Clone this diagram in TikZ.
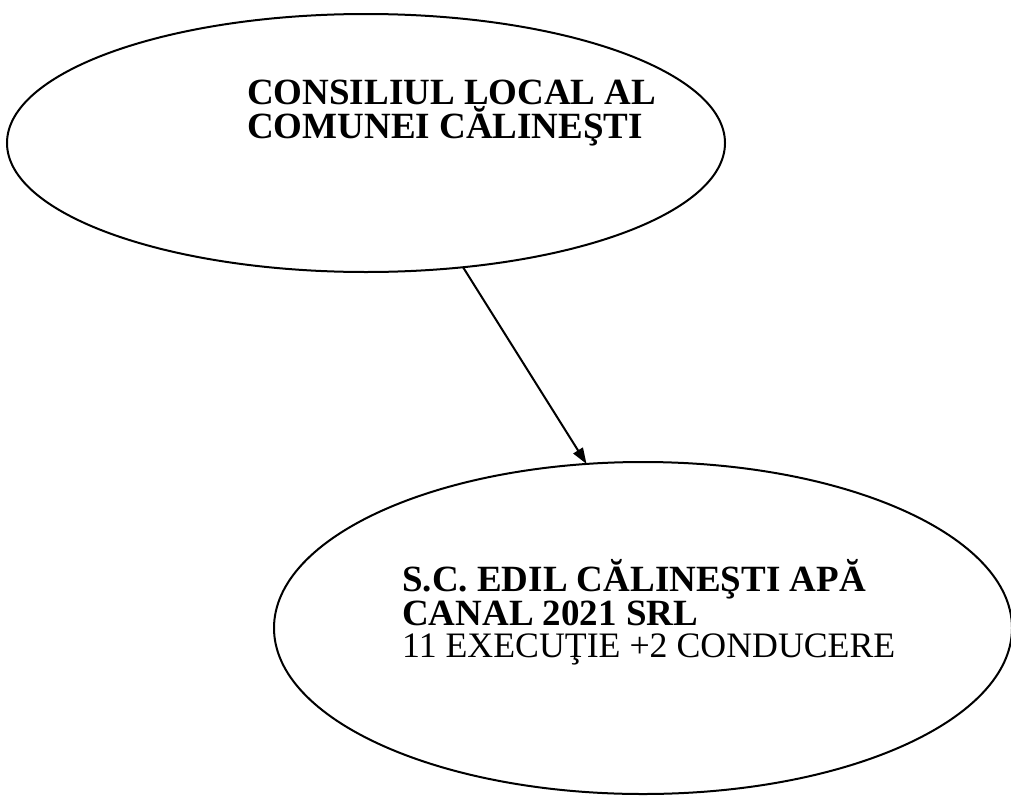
\documentclass[tikz,border=0pt]{standalone}
\usepackage{fontspec}
\setmainfont{Liberation Serif}
\usetikzlibrary{shapes.geometric,arrows.meta}
\begin{document}
\begin{tikzpicture}[x=1pt,y=-1pt,
        oval/.style={draw,ellipse,line width=2pt,inner sep=0pt,outer sep=0pt},
        txt/.style={align=left,inner sep=0pt,font=\fontsize{37}{32}\selectfont}]
    \useasboundingbox (0,0) rectangle (1011,795);
    \node[oval,minimum width=718pt,minimum height=258pt] (consiliu) at (366,143) {};
    \node[oval,minimum width=738pt,minimum height=332pt] (edil) at (643,628) {};
    \node[txt,anchor=base west] (consiliutxt) at (247,138) {\textbf{CONSILIUL LOCAL AL}\\\textbf{COMUNEI CĂLINEŞTI}};
    \node[txt,anchor=base west] (ediltxt) at (402,657) {\textbf{S.C. EDIL CĂLINEŞTI APĂ}\\\textbf{CANAL 2021 SRL}\\{\fontsize{35.8}{32}\selectfont 11 EXECUŢIE +2 CONDUCERE}};
    \draw[line width=2pt,-{Triangle[length=16pt,width=11pt]}] (consiliu.-52) -- (edil.109);
\end{tikzpicture}
\end{document}
